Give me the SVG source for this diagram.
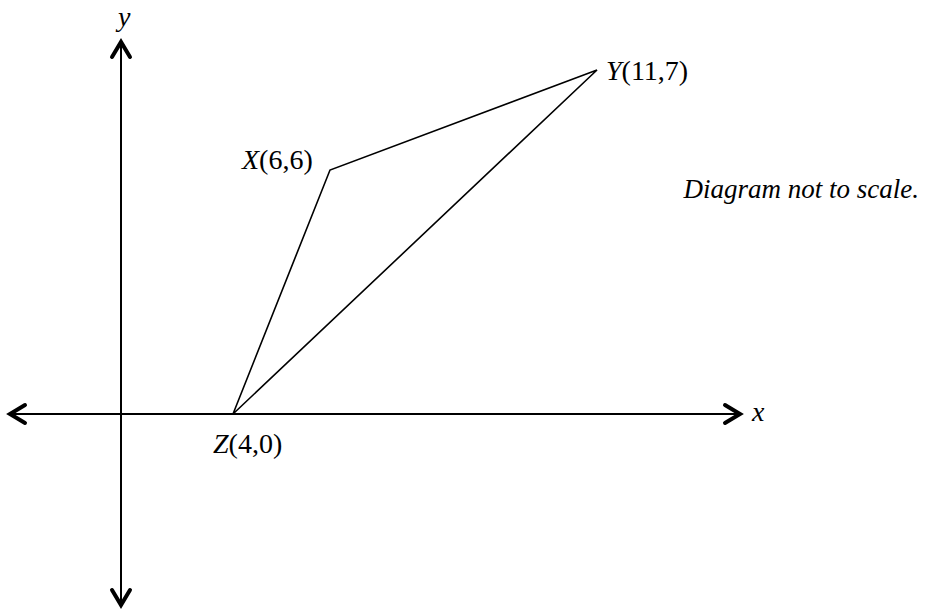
<svg xmlns="http://www.w3.org/2000/svg" width="925" height="612" viewBox="0 0 925 612">
<style>
.axis{stroke:#000;stroke-width:2;fill:none}
.head{stroke:#000;stroke-width:4;fill:none;stroke-linecap:round;stroke-linejoin:miter}
.edge{stroke:#000;stroke-width:1.6;fill:none;stroke-linejoin:miter}
text{font-family:"Liberation Serif","Times New Roman",serif;font-size:28px;fill:#000}
.it{font-style:italic}
.note{font-size:27px;text-anchor:end}
</style>
<rect width="925" height="612" fill="#fff"/>
<g id="axes">
<line class="axis" x1="121" y1="42" x2="121" y2="605"/>
<line class="axis" x1="10" y1="414" x2="740" y2="414"/>
<polyline class="head" points="112,57 121,42 130,57"/>
<polyline class="head" points="112,590 121,605 130,590"/>
<polyline class="head" points="25,405 10,414 25,423"/>
<polyline class="head" points="725,405 740,414 725,423"/>
<text class="it" x="118" y="26">y</text>
<text class="it" x="752" y="421">x</text>
</g>
<g id="connectors">
<polyline class="edge" points="233,414 330,170 597,70 233,414"/>
</g>
<g id="X"><text x="242" y="169"><tspan class="it">X</tspan>(6,6)</text></g>
<g id="Y"><text x="606" y="80"><tspan class="it">Y</tspan>(11,7)</text></g>
<g id="Z"><text x="213" y="453"><tspan class="it">Z</tspan>(4,0)</text></g>
<text class="it note" x="919" y="198">Diagram not to scale.</text>
</svg>
